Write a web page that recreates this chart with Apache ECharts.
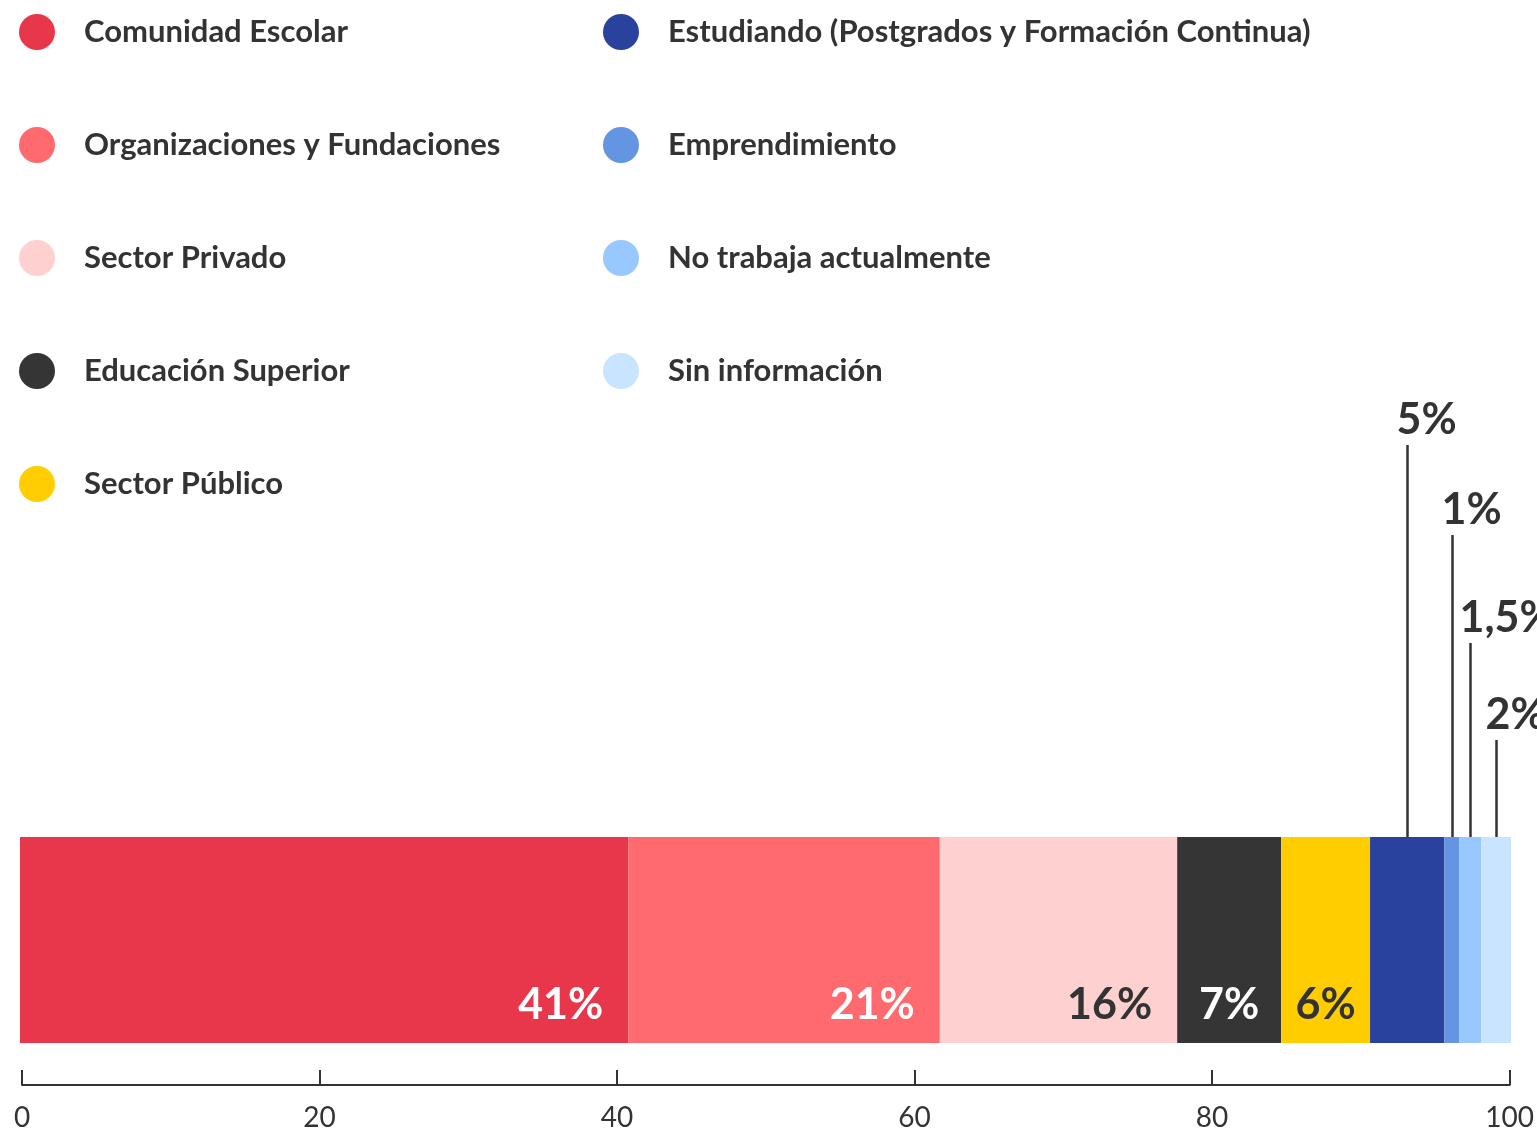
<!DOCTYPE html>
<html>
<head>
<meta charset="utf-8">
<script src="https://cdn.jsdelivr.net/npm/echarts@6/dist/echarts.min.js"></script>
<style>html,body{margin:0;padding:0;background:#fff}#c{width:1537px;height:1134px}</style>
</head>
<body>
<div id="c"></div>
<script>
// ---- data ----
const categories = ['Comunidad Escolar','Organizaciones y Fundaciones','Sector Privado','Educación Superior','Sector Público','Estudiando (Postgrados y Formación Continua)','Emprendimiento','No trabaja actualmente','Sin información'];
const values = [41, 21, 16, 7, 6, 5, 1, 1.5, 2];
const colors = ['#E8374A','#FE6A6E','#FFD0D0','#353535','#FFCD00','#29429D','#6395E2','#99C7FF','#C8E4FF'];
const axisTicks = [0, 20, 40, 60, 80, 100];

// ---- styling / layout ----
const FONT = 'Lato, "Noto Sans", sans-serif';
const INK = '#333333';
const total = values.reduce((a, b) => a + b, 0);
const fmt = v => String(v).replace('.', ',') + '%';
// label style per series: inside (right / centered) or leader line above
const labelMode = ['right','right','right','center','center','lead','lead','lead','lead'];
const labelInk = ['#fff','#fff',INK,'#fff',INK];
const leadLift = [392, 302, 194, 97];

const series = categories.map((name, i) => {
  const s = {
    name, type: 'bar', stack: 'all', xAxisIndex: 0, yAxisIndex: 0,
    data: [values[i]], barWidth: 206, clip: false,
    itemStyle: { color: colors[i] }, emphasis: { disabled: true }
  };
  if (labelMode[i] === 'right' || labelMode[i] === 'center') {
    const right = labelMode[i] === 'right';
    s.label = {
      show: true,
      position: right ? ['100%', '100%'] : ['50%', '100%'],
      offset: right ? [-25, -38] : [0, -38],
      align: right ? 'right' : 'center',
      verticalAlign: 'middle',
      formatter: () => fmt(values[i]),
      color: labelInk[i], fontSize: 43, fontWeight: 'bold', fontFamily: FONT
    };
  }
  return s;
});

// leader-line labels for the thin segments
const leadData = [];
let cum = 0;
values.forEach((v, i) => {
  if (labelMode[i] === 'lead') leadData.push([cum + v / 2, 0, fmt(v)]);
  cum += v;
});
series.push({
  type: 'custom', name: 'lead', coordinateSystem: 'cartesian2d',
  xAxisIndex: 0, yAxisIndex: 0, clip: false, silent: true,
  encode: { x: 0, y: 1 },
  data: leadData,
  renderItem: (params, api) => {
    const p = api.coord([api.value(0), 0]);
    const top = p[1] - 103;
    const lift = leadLift[params.dataIndex];
    const x = Math.round(p[0]) + 0.5;
    return {
      type: 'group',
      children: [
        { type: 'line', shape: { x1: x, y1: top, x2: x, y2: top - lift },
          style: { stroke: INK, lineWidth: 2.5 } },
        { type: 'text', style: { x: x - 11, y: top - lift - 3, text: leadData[params.dataIndex][2],
          fill: INK, fontSize: 43, fontWeight: 'bold', fontFamily: FONT,
          align: 'left', verticalAlign: 'bottom' } }
      ]
    };
  }
});

const legendBase = {
  orient: 'vertical', top: 14, padding: 0, itemWidth: 36, itemHeight: 36, itemGap: 77,
  icon: 'circle', selectedMode: false,
  textStyle: { fontSize: 31, fontWeight: 'bold', color: INK, fontFamily: FONT, padding: [0, 0, 0, 24] }
};

const option = {
  animation: false,
  backgroundColor: '#fff',
  color: colors,
  legend: [
    Object.assign({}, legendBase, { left: 19, data: categories.slice(0, 5) }),
    Object.assign({}, legendBase, { left: 603, data: categories.slice(5) })
  ],
  grid: [
    { left: 20, right: 26, top: 837, height: 206, containLabel: false },
    { left: 22, right: 27, top: 1045, height: 40, containLabel: false }
  ],
  xAxis: [
    { gridIndex: 0, type: 'value', min: 0, max: total, show: false },
    { gridIndex: 1, type: 'value', min: axisTicks[0], max: axisTicks[axisTicks.length - 1],
      interval: axisTicks[1] - axisTicks[0], position: 'bottom',
      axisLine: { show: true, lineStyle: { color: INK, width: 2 } },
      axisTick: { show: true, inside: true, length: 15, lineStyle: { color: INK, width: 2 } },
      splitLine: { show: false },
      axisLabel: { fontSize: 28, color: INK, fontFamily: FONT, margin: 19,
        formatter: v => axisTicks.includes(v) ? String(v) : '' } }
  ],
  yAxis: [
    { gridIndex: 0, type: 'category', data: ['total'], show: false },
    { gridIndex: 1, type: 'value', show: false }
  ],
  series
};

const chart = echarts.init(document.getElementById('c'), null, { renderer: 'canvas' });
chart.setOption(option);
</script>
</body>
</html>
